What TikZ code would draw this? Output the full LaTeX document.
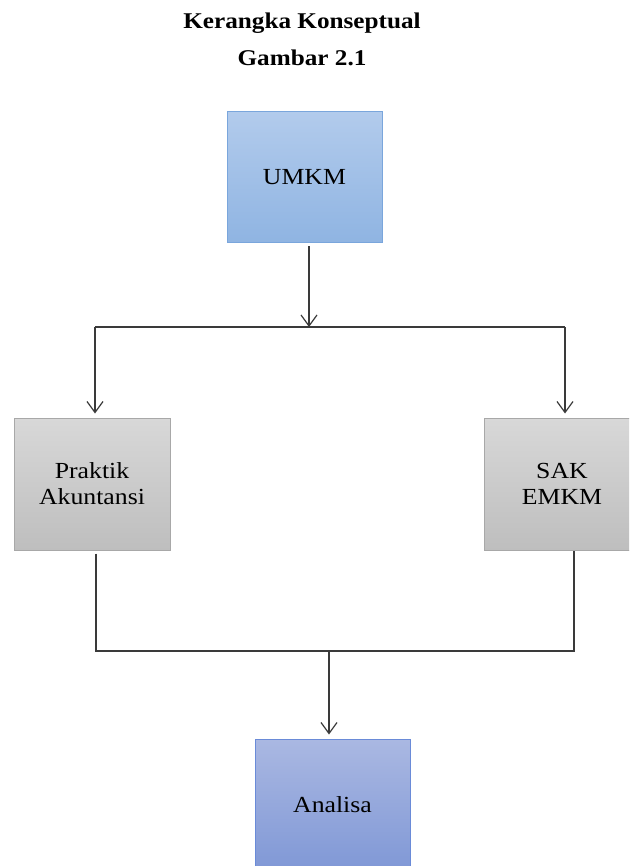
\documentclass[tikz,border=0pt]{standalone}
\usepackage{fontspec}
\setmainfont[FakeStretch=1.12]{Liberation Serif}
\usetikzlibrary{arrows.meta}
\definecolor{lineC}{RGB}{58,58,58}
\definecolor{blueT}{RGB}{178,203,236}
\definecolor{blueB}{RGB}{143,180,226}
\definecolor{blueD}{RGB}{122,166,220}
\definecolor{grayT}{RGB}{216,216,216}
\definecolor{grayB}{RGB}{190,190,190}
\definecolor{grayD}{RGB}{168,168,168}
\definecolor{anT}{RGB}{170,184,226}
\definecolor{anB}{RGB}{128,152,214}
\definecolor{anD}{RGB}{106,139,216}
\tikzset{
  boxbase/.style={rectangle, line width=1pt, align=center, inner sep=0pt,
    font=\fontsize{23}{26}\selectfont},
  bluebox/.style={boxbase, draw=blueD, top color=blueT, bottom color=blueB},
  graybox/.style={boxbase, draw=grayD, top color=grayT, bottom color=grayB},
  anbox/.style={boxbase, draw=anD, top color=anT, bottom color=anB},
  conn/.style={draw=lineC, line width=1.2pt},
  arr/.style={conn, -{Straight Barb[length=11pt,width=16pt,line width=1.2pt]}},
  titletext/.style={font=\fontsize{22.5}{26}\selectfont\bfseries, anchor=base, inner sep=0pt}
}
\begin{document}
\begin{tikzpicture}[x=1pt,y=-1pt]
\useasboundingbox (0,0) rectangle (629,866);
\clip (0,0) rectangle (629,866);
\node[titletext] (t1) at (302,29) {Kerangka Konseptual};
\node[titletext] (t2) at (302,66) {Gambar 2.1};
\node[bluebox, minimum width=155pt, minimum height=131pt] (umkm) at (304.5,177.5) {UMKM};
\node[graybox, minimum width=156pt, minimum height=132pt] (praktik) at (92,484) {Praktik\\Akuntansi};
\node[graybox, minimum width=155pt, minimum height=132pt] (sak) at (562,484) {SAK\\EMKM};
\node[anbox, minimum width=155pt, minimum height=131pt] (analisa) at (332.5,804.5) {Analisa};
\coordinate (top) at (309,327);
\coordinate (tl) at (95,327);
\coordinate (tr) at (565,327);
\coordinate (bl) at (96,651);
\coordinate (br) at (574,651);
\coordinate (bm) at (329,651);
\draw[arr, shorten <=3pt] (umkm.south -| top) -- (top);
\draw[conn] (tl) -- (tr);
\draw[arr, shorten >=4pt] (tl) -- (tl |- praktik.north);
\draw[arr, shorten >=4pt] (tr) -- (tr |- sak.north);
\draw[conn, shorten <=3pt] (bl |- praktik.south) -- (bl) -- (br) -- (br |- sak.south);
\draw[arr, shorten >=4pt] (bm) -- (bm |- analisa.north);
\end{tikzpicture}
\end{document}
